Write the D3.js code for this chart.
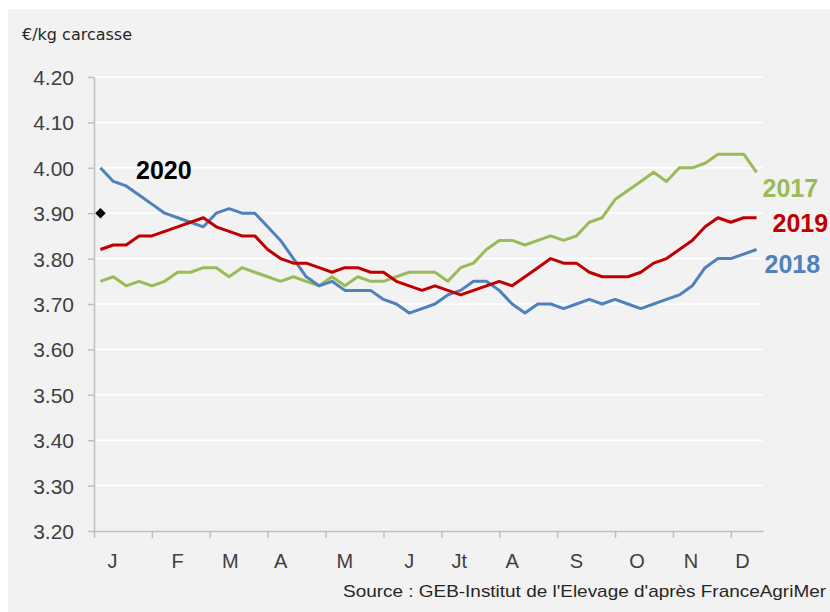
<!DOCTYPE html>
<html><head><meta charset="utf-8">
<script src="https://cdn.jsdelivr.net/npm/d3@7"></script>
<style>body{margin:0;background:#fff;} svg{display:block;}</style>
</head><body>
<svg id="chart" width="830" height="612"></svg>
<script>
// ---- data ----
const weeks = d3.range(1, 53); // 52 weekly categories
const s2017 = [3.75,3.76,3.74,3.75,3.74,3.75,3.77,3.77,3.78,3.78,3.76,3.78,3.77,3.76,3.75,3.76,3.75,3.74,3.76,3.74,3.76,3.75,3.75,3.76,3.77,3.77,3.77,3.75,3.78,3.79,3.82,3.84,3.84,3.83,3.84,3.85,3.84,3.85,3.88,3.89,3.93,3.95,3.97,3.99,3.97,4.00,4.00,4.01,4.03,4.03,4.03,3.99];
const s2018 = [4.00,3.97,3.96,3.94,3.92,3.90,3.89,3.88,3.87,3.90,3.91,3.90,3.90,3.87,3.84,3.80,3.76,3.74,3.75,3.73,3.73,3.73,3.71,3.70,3.68,3.69,3.70,3.72,3.73,3.75,3.75,3.73,3.70,3.68,3.70,3.70,3.69,3.70,3.71,3.70,3.71,3.70,3.69,3.70,3.71,3.72,3.74,3.78,3.80,3.80,3.81,3.82];
const s2019 = [3.82,3.83,3.83,3.85,3.85,3.86,3.87,3.88,3.89,3.87,3.86,3.85,3.85,3.82,3.80,3.79,3.79,3.78,3.77,3.78,3.78,3.77,3.77,3.75,3.74,3.73,3.74,3.73,3.72,3.73,3.74,3.75,3.74,3.76,3.78,3.80,3.79,3.79,3.77,3.76,3.76,3.76,3.77,3.79,3.80,3.82,3.84,3.87,3.89,3.88,3.89,3.89];
const s2020 = [3.90];
const monthLabels = ["J","F","M","A","M","J","Jt","A","S","O","N","D"];
const monthLabelWeeks = [1.44,6.5,10.6,14.5,19.5,24.5,28.4,32.5,37.5,42.2,46.4,50.4];
const monthTickWeeks = [0,4.5,9,13.5,18,22.5,27,31.5,36,40.5,45,49.5];
const yTicks = [3.2,3.3,3.4,3.5,3.6,3.7,3.8,3.9,4.0,4.1,4.2];

// ---- layout ----
const svg = d3.select("#chart");
const W = 830, H = 612;
svg.append("rect").attr("x",8).attr("y",9).attr("width",W-8).attr("height",H-9).attr("fill","#f2f2f2");

const x = d3.scaleLinear().domain([0,52]).range([94,763]);
const y = d3.scaleLinear().domain([3.2,4.2]).range([531,77]);
const xc = i => x(i + 0.5);

// gridlines
svg.append("g").selectAll("line").data(yTicks.slice(1)).join("line")
  .attr("x1",x(0)).attr("x2",x(52)).attr("y1",d=>y(d)).attr("y2",d=>y(d))
  .attr("stroke","#ffffff").attr("stroke-width",1.5);

// y axis
const gy = svg.append("g").attr("transform",`translate(${x(0)},0)`)
  .call(d3.axisLeft(y).tickValues(yTicks).tickFormat(d3.format(".2f")).tickSize(6).tickSizeOuter(0).tickPadding(14));
gy.select(".domain").attr("stroke","#bfbfbf").attr("stroke-width",1.5);
gy.selectAll(".tick line").attr("stroke","#bfbfbf").attr("stroke-width",1.5);
gy.selectAll(".tick text").attr("font-family","'Liberation Sans', Arial, sans-serif").attr("font-size",21).attr("fill","#404040").attr("dy","0.36em");

// x axis
const gx = svg.append("g").attr("transform",`translate(0,${y(3.2)})`)
  .call(d3.axisBottom(x).tickValues(monthTickWeeks).tickFormat("").tickSize(7).tickSizeOuter(0));
gx.select(".domain").attr("stroke","#bfbfbf").attr("stroke-width",1.5);
gx.selectAll(".tick line").attr("stroke","#bfbfbf").attr("stroke-width",1.5);

svg.append("g").selectAll("text").data(monthLabels).join("text")
  .attr("x",(d,i)=>x(monthLabelWeeks[i])).attr("y",568)
  .attr("text-anchor","middle").attr("font-family","'Liberation Sans', Arial, sans-serif")
  .attr("font-size",20).attr("fill","#404040").text(d=>d);

// unit label
svg.append("text").attr("x",22).attr("y",40).attr("font-family","'DejaVu Sans', sans-serif")
  .attr("font-size",16).attr("fill","#262626").text("€/kg carcasse");

// lines
const line = d3.line().x((d,i)=>xc(i)).y(d=>y(d));
const colors = {"2017":"#9bbb59","2018":"#4f81bd","2019":"#c00000"};
[["2017",s2017],["2018",s2018],["2019",s2019]].forEach(([k,arr])=>{
  svg.append("path").datum(arr).attr("d",line).attr("fill","none")
    .attr("stroke",colors[k]).attr("stroke-width",3).attr("stroke-linejoin","round");
});

// 2020 diamond (rotated square)
svg.append("g").selectAll("path").data(s2020).join("path")
  .attr("d",d3.symbol(d3.symbolSquare,55))
  .attr("transform",(d,i)=>`translate(${xc(i)},${y(d)}) rotate(45)`).attr("fill","#000");

// series labels
const lblFont = "'Liberation Sans', Arial, sans-serif";
svg.append("text").attr("x",xc(3)-3).attr("y",179).attr("font-family",lblFont).attr("font-weight","bold")
  .attr("font-size",25).attr("fill","#000").text("2020");
const lastX = xc(51);
svg.append("text").attr("x",lastX+6).attr("y",y(s2017[51])+25)
  .attr("font-family",lblFont).attr("font-weight","bold").attr("font-size",25).attr("fill",colors["2017"]).text("2017");
svg.append("text").attr("x",lastX+16).attr("y",y(s2019[51])+14)
  .attr("font-family",lblFont).attr("font-weight","bold").attr("font-size",25).attr("fill",colors["2019"]).text("2019");
svg.append("text").attr("x",lastX+8).attr("y",y(s2018[51])+23)
  .attr("font-family",lblFont).attr("font-weight","bold").attr("font-size",25).attr("fill",colors["2018"]).text("2018");

// source
svg.append("text").attr("x",826).attr("y",597).attr("text-anchor","end")
  .attr("font-family","'Liberation Sans', Arial, sans-serif").attr("font-size",17).attr("fill","#262626")
  .attr("textLength",483).attr("lengthAdjust","spacingAndGlyphs")
  .text("Source : GEB-Institut de l'Elevage d'après FranceAgriMer");
</script>
</body></html>
